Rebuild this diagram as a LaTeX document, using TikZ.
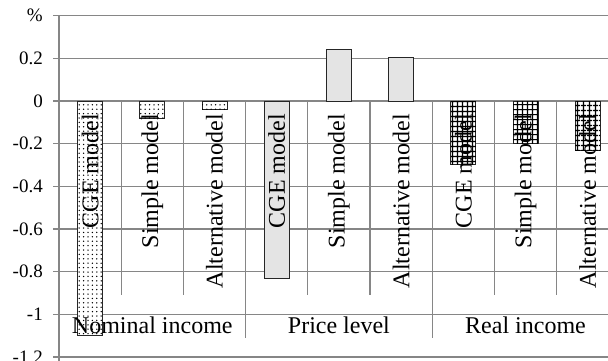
\documentclass[tikz,border=0pt]{standalone}
\usepackage{fontspec}
\setmainfont{Liberation Serif}
\usetikzlibrary{patterns.meta}
\definecolor{gridgray}{RGB}{134,134,134}
\definecolor{barfill}{RGB}{228,228,228}
\tikzset{
  gridline/.style={draw=gridgray, line width=1.2pt},
  barbox/.style={draw=black!85, line width=0.9pt},
  dotbar/.style={barbox, fill=white, postaction={pattern={Dots[distance=4.4pt, radius=0.75pt]}, pattern color=black}},
  graybar/.style={barbox, fill=barfill},
  gridbar/.style={barbox, fill=white, postaction={pattern={Hatch[angle=0, distance=5.4pt, line width=1.2pt]}, pattern color=black}},
  ylab/.style={anchor=east, inner sep=0pt, font=\fontsize{19}{21}\selectfont},
  catlab/.style={anchor=base, inner sep=0pt, font=\fontsize{24}{26}\selectfont},
  rotlab/.style={rotate=90, anchor=east, inner sep=0pt, font=\fontsize{24}{26}\selectfont},
}
\begin{document}
\begin{tikzpicture}[x=1pt, y=-1pt]
\useasboundingbox (0,0) rectangle (608,360);
\clip (0,0) rectangle (608,360);
% horizontal gridlines with ticks
\foreach \v in {0.4,0.2,0,-0.2,-0.4,-0.6,-0.8,-1,-1.2}{
  \pgfmathsetmacro{\yy}{101-213.3*\v}
  \draw[gridline] (53,\yy) -- (620,\yy);
}
% y axis
\draw[gridline] (59,15.8) -- (59,362);
% category separators
\foreach \x in {121.2,183.4,307.8,370.0,494.4,556.6}{
  \draw[gridline] (\x,101) -- (\x,295);
}
\foreach \x in {245.6,432.2}{
  \draw[gridline] (\x,101) -- (\x,338);
}
% y labels
\node[ylab] (yl0) at (43,15.8) {\%};
\node[ylab] (yl1) at (43,58.3) {0.2};
\node[ylab] (yl2) at (43,101) {0};
\node[ylab] (yl3) at (43,143.7) {-0.2};
\node[ylab] (yl4) at (43,186.3) {-0.4};
\node[ylab] (yl5) at (43,229) {-0.6};
\node[ylab] (yl6) at (43,271.6) {-0.8};
\node[ylab] (yl7) at (43,314.3) {-1};
\node[ylab] (yl8) at (43,357) {-1.2};
% bars
\draw[dotbar]  (77.6,101)  rectangle (102.6,335);
\draw[dotbar]  (139.8,101) rectangle (164.8,118);
\draw[dotbar]  (202.0,101) rectangle (227.0,109.5);
\draw[graybar] (264.2,101) rectangle (289.2,278);
\draw[graybar] (326.4,101) rectangle (351.4,49);
\draw[graybar] (388.6,101) rectangle (413.6,57);
\draw[gridbar] (450.8,101) rectangle (475.8,164);
\draw[gridbar] (513.0,101) rectangle (538.0,143);
\draw[gridbar] (575.2,101) rectangle (600.2,150);
% rotated labels
\node[rotlab] (r1) at (90.1,114) {CGE model};
\node[rotlab] (r2) at (152.3,114) {Simple model};
\node[rotlab] (r3) at (214.5,114) {Alternative model};
\node[rotlab] (r4) at (276.7,114) {CGE model};
\node[rotlab] (r5) at (338.9,114) {Simple model};
\node[rotlab] (r6) at (401.1,114) {Alternative model};
\node[rotlab] (r7) at (463.3,114) {CGE model};
\node[rotlab] (r8) at (525.5,114) {Simple model};
\node[rotlab] (r9) at (587.7,114) {Alternative model};
% category labels
\node[catlab] (c1) at (152.3,333) {Nominal income};
\node[catlab] (c2) at (338.9,333) {Price level};
\node[catlab] (c3) at (525.5,333) {Real income};
\end{tikzpicture}
\end{document}
